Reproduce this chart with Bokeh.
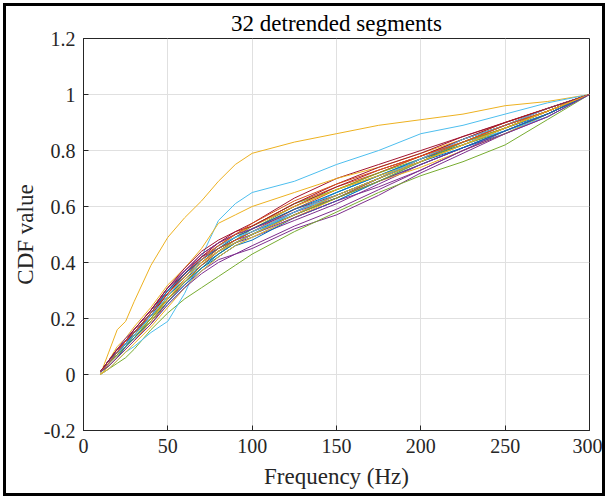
from bokeh.plotting import figure
from bokeh.models import FixedTicker, CustomJSTickFormatter, Range1d
from bokeh.embed import file_html
from bokeh.resources import INLINE

freq = [10, 15, 20, 25, 30, 40, 50, 60, 70, 80, 90, 100, 125, 150, 175, 200, 225, 250, 275, 300]

seg01 = [0.01,0.04,0.07,0.10,0.13,0.20,0.28,0.34,0.39,0.43,0.47,0.50,0.58,0.65,0.71,0.77,0.83,0.89,0.94,1.0]
seg02 = [0.01,0.05,0.08,0.11,0.15,0.22,0.29,0.35,0.40,0.44,0.48,0.51,0.59,0.66,0.72,0.78,0.83,0.88,0.94,1.0]
seg03 = [0.00,0.08,0.16,0.19,0.26,0.39,0.49,0.56,0.62,0.69,0.75,0.79,0.83,0.86,0.89,0.91,0.93,0.96,0.975,1.0]
seg04 = [0.01,0.03,0.06,0.09,0.12,0.19,0.26,0.32,0.37,0.41,0.43,0.45,0.52,0.57,0.64,0.72,0.79,0.86,0.92,1.0]
seg05 = [0.00,0.02,0.04,0.06,0.09,0.16,0.22,0.27,0.31,0.35,0.39,0.43,0.51,0.58,0.65,0.71,0.76,0.82,0.91,1.0]
seg06 = [0.00,0.02,0.05,0.08,0.10,0.15,0.19,0.29,0.42,0.55,0.61,0.65,0.69,0.75,0.80,0.86,0.89,0.93,0.97,1.0]
seg07 = [0.01,0.05,0.09,0.12,0.16,0.23,0.30,0.37,0.43,0.47,0.51,0.54,0.63,0.70,0.75,0.80,0.85,0.90,0.95,1.0]
seg08 = [0.00,0.03,0.06,0.10,0.14,0.21,0.29,0.36,0.41,0.45,0.48,0.51,0.57,0.63,0.70,0.77,0.82,0.88,0.93,1.0]
seg09 = [0.01,0.04,0.07,0.11,0.14,0.22,0.30,0.36,0.42,0.46,0.50,0.53,0.61,0.67,0.72,0.78,0.84,0.89,0.95,1.0]
seg10 = [0.01,0.05,0.10,0.13,0.17,0.24,0.32,0.38,0.45,0.54,0.57,0.60,0.65,0.70,0.74,0.79,0.84,0.90,0.95,1.0]
seg11 = [0.01,0.04,0.08,0.12,0.15,0.22,0.29,0.35,0.40,0.44,0.47,0.49,0.55,0.61,0.68,0.75,0.81,0.87,0.93,1.0]
seg12 = [0.01,0.04,0.07,0.10,0.13,0.19,0.27,0.33,0.39,0.44,0.48,0.52,0.60,0.66,0.71,0.76,0.82,0.88,0.94,1.0]
seg13 = [0.00,0.03,0.06,0.09,0.12,0.18,0.25,0.31,0.37,0.42,0.46,0.49,0.56,0.62,0.69,0.76,0.82,0.87,0.93,1.0]
seg14 = [0.01,0.05,0.08,0.12,0.15,0.22,0.30,0.36,0.41,0.46,0.49,0.52,0.59,0.64,0.70,0.77,0.84,0.90,0.95,1.0]
seg15 = [0.01,0.04,0.08,0.11,0.14,0.21,0.27,0.33,0.38,0.42,0.46,0.48,0.56,0.62,0.69,0.75,0.81,0.86,0.93,1.0]
seg16 = [0.01,0.03,0.06,0.09,0.12,0.18,0.26,0.33,0.39,0.44,0.47,0.50,0.57,0.63,0.70,0.76,0.83,0.89,0.94,1.0]
seg17 = [0.00,0.02,0.05,0.08,0.11,0.17,0.24,0.31,0.37,0.42,0.46,0.49,0.56,0.63,0.69,0.74,0.80,0.86,0.93,1.0]
seg18 = [0.01,0.05,0.09,0.12,0.16,0.23,0.31,0.37,0.42,0.45,0.48,0.50,0.56,0.62,0.67,0.73,0.80,0.87,0.93,1.0]
seg19 = [0.01,0.04,0.07,0.10,0.14,0.20,0.28,0.35,0.40,0.45,0.49,0.53,0.61,0.66,0.72,0.77,0.82,0.87,0.93,1.0]
seg20 = [0.01,0.04,0.07,0.11,0.15,0.22,0.30,0.35,0.40,0.44,0.47,0.50,0.58,0.65,0.71,0.77,0.83,0.87,0.92,1.0]
seg21 = [0.01,0.04,0.08,0.11,0.15,0.21,0.29,0.36,0.42,0.47,0.50,0.53,0.60,0.67,0.73,0.78,0.84,0.89,0.95,1.0]
seg22 = [0.01,0.05,0.08,0.11,0.15,0.22,0.30,0.36,0.41,0.45,0.49,0.52,0.59,0.65,0.71,0.77,0.82,0.88,0.94,1.0]
seg23 = [0.01,0.04,0.07,0.10,0.13,0.20,0.27,0.34,0.40,0.45,0.48,0.51,0.58,0.64,0.70,0.77,0.83,0.88,0.94,1.0]
seg24 = [0.01,0.03,0.06,0.10,0.13,0.20,0.28,0.35,0.41,0.46,0.50,0.53,0.60,0.66,0.71,0.76,0.82,0.88,0.94,1.0]
seg25 = [0.01,0.05,0.09,0.13,0.16,0.23,0.31,0.37,0.43,0.47,0.50,0.52,0.58,0.63,0.69,0.75,0.81,0.87,0.93,1.0]
seg26 = [0.01,0.04,0.07,0.10,0.13,0.20,0.27,0.33,0.38,0.43,0.47,0.50,0.57,0.63,0.69,0.76,0.83,0.88,0.94,1.0]
seg27 = [0.01,0.04,0.08,0.11,0.14,0.21,0.28,0.35,0.41,0.46,0.49,0.51,0.58,0.64,0.70,0.77,0.84,0.89,0.95,1.0]
seg28 = [0.01,0.05,0.09,0.12,0.16,0.23,0.31,0.38,0.44,0.48,0.51,0.53,0.61,0.68,0.74,0.79,0.85,0.90,0.95,1.0]
seg29 = [0.01,0.03,0.06,0.10,0.13,0.19,0.26,0.32,0.38,0.43,0.47,0.50,0.57,0.64,0.70,0.76,0.81,0.87,0.93,1.0]
seg30 = [0.01,0.04,0.08,0.12,0.15,0.22,0.29,0.35,0.41,0.46,0.50,0.54,0.62,0.68,0.73,0.78,0.83,0.89,0.94,1.0]
seg31 = [0.00,0.03,0.06,0.09,0.12,0.19,0.27,0.34,0.40,0.44,0.47,0.50,0.57,0.64,0.70,0.76,0.82,0.88,0.94,1.0]
seg32 = [0.01,0.03,0.06,0.09,0.12,0.18,0.25,0.31,0.36,0.40,0.43,0.46,0.53,0.59,0.66,0.73,0.80,0.86,0.92,1.0]

segments = [seg01, seg02, seg03, seg04, seg05, seg06, seg07, seg08, seg09, seg10,
            seg11, seg12, seg13, seg14, seg15, seg16, seg17, seg18, seg19, seg20,
            seg21, seg22, seg23, seg24, seg25, seg26, seg27, seg28, seg29, seg30,
            seg31, seg32]

colors = ["#0072BD", "#D95319", "#EDB120", "#7E2F8E", "#77AC30", "#4DBEEE", "#A2142F"]

x_ticks = [0, 50, 100, 150, 200, 250, 300]
y_ticks = [-0.2, 0, 0.2, 0.4, 0.6, 0.8, 1.0, 1.2]

FONT = "Liberation Serif"
AX = "#262626"

p = figure(width=602, height=493, output_backend="svg", toolbar_location=None,
           x_range=Range1d(0, 300), y_range=Range1d(-0.2, 1.2),
           min_border_left=77, min_border_right=19, min_border_top=32, min_border_bottom=69,
           title="32 detrended segments")
p.styles = {"border": "3px solid black", "margin-left": "3px", "margin-top": "3px"}

p.title.text_font = FONT
p.title.text_font_size = "23px"
p.title.text_font_style = "normal"
p.title.text_color = "#000000"
p.title.align = "center"
p.title.offset = 0
p.title.standoff = 5

for i, seg in enumerate(segments):
    p.line(freq, seg, line_color=colors[i % 7], line_width=1)

p.outline_line_color = AX
p.outline_line_width = 1
p.background_fill_color = "white"
p.border_fill_color = "white"

fmt = CustomJSTickFormatter(code="return String(Number(tick.toFixed(1)));")

p.xaxis.ticker = FixedTicker(ticks=x_ticks)
p.yaxis.ticker = FixedTicker(ticks=y_ticks)
p.yaxis.formatter = fmt

p.xaxis.axis_label = "Frequency (Hz)"
p.yaxis.axis_label = "CDF value"

for ax in list(p.xaxis) + list(p.yaxis):
    ax.axis_line_color = AX
    ax.axis_line_width = 1
    ax.major_tick_line_color = AX
    ax.major_tick_in = 5
    ax.major_tick_out = 0
    ax.minor_tick_line_color = None
    ax.major_label_text_font = FONT
    ax.major_label_text_font_size = "20px"
    ax.major_label_text_color = AX
    ax.axis_label_text_font = FONT
    ax.axis_label_text_font_size = "23px"
    ax.axis_label_text_font_style = "normal"
    ax.axis_label_text_color = AX

p.xaxis.major_label_standoff = 8
p.xaxis.axis_label_standoff = 8
p.yaxis.major_label_standoff = 8
p.yaxis.axis_label_standoff = 3

p.xgrid.ticker = FixedTicker(ticks=x_ticks)
p.ygrid.ticker = FixedTicker(ticks=y_ticks)
p.grid.grid_line_color = "#e0e0e0"
p.grid.grid_line_alpha = 1.0

open("out.html", "w").write(file_html(p, INLINE))
